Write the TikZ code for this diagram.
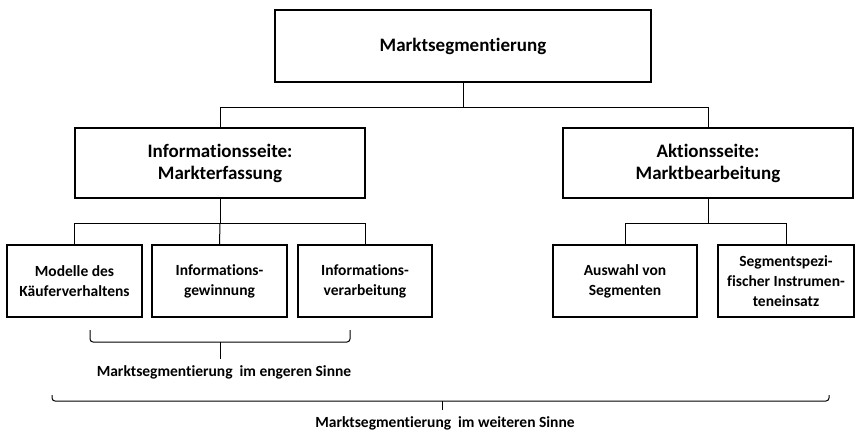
\documentclass[tikz,border=0pt]{standalone}
\usepackage{fontspec}
\setmainfont{Carlito}[RawFeature={-liga}]
\tikzset{
  kasten/.style={draw, line width=1.3pt, align=center, inner sep=0pt,
    font=\bfseries\fontsize{15.5}{20}\selectfont},
  gross/.style={font=\bfseries\fontsize{19}{22}\selectfont},
  linie/.style={line width=1pt},
  klammer/.style={line width=1pt, rounded corners=3pt},
  beschr/.style={font=\bfseries\fontsize{15.5}{20}\selectfont}
}
\begin{document}
\begin{tikzpicture}[x=1pt,y=-1pt]
\useasboundingbox (0,0) rectangle (856,436);
	\def\hb{72}
	\def\wb{290}

%Ebene 1
\node[kasten, gross, minimum width=376, minimum height=72] (ms) at (463,46) {Marktsegmentierung};

%Ebene 2
\node[kasten, gross, minimum width=\wb, minimum height=70] (info) at (220,163) {Informationsseite:\\Markterfassung};
\node[kasten, gross, minimum width=\wb, minimum height=70] (akt) at (708,163) {Aktionsseite:\\Marktbearbeitung};

%Ebene 3
\node[kasten, minimum width=135, minimum height=\hb] (mod) at (74.5,281) {Modelle des\\Käuferverhaltens};
\node[kasten, minimum width=135, minimum height=\hb] (gew) at (219.5,281) {Informations-\\gewinnung};
\node[kasten, minimum width=134, minimum height=\hb] (ver) at (365,281) {Informations-\\verarbeitung};
\node[kasten, minimum width=144, minimum height=\hb] (ausw) at (625,281) {Auswahl von\\Segmenten};
\node[kasten, minimum width=136, minimum height=\hb] (seg) at (786,281) {Segmentspezi-\\fischer Instrumen-\\teneinsatz};

%Verbindungen
\draw[linie] (ms.south) -- ++(0,25) coordinate (v0);
\draw[linie] (info.north) |- (v0) -| (akt.north);
\draw[linie] (info.south) -- ++(0,25) coordinate (v1);
\draw[linie] (mod.north) |- (v1) -| (ver.north);
\draw[linie] (v1) -- (gew.north);
\draw[linie] (akt.south) -- ++(0,25) coordinate (v2);
\draw[linie] (ausw.north) |- (v2) -| (seg.north);

%Klammern
\coordinate (k1) at (220,342);
\coordinate (k2) at (442,401);
\draw[klammer] (90,330) -- (90,342) -- (350,342) -- (350,330);
\draw[klammer] (52,395) -- (52,401) -- (829,401) -- (829,395);
\node[beschr] (eng) at (224,372) {Marktsegmentierung\ \ im engeren Sinne};
\node[beschr] (weit) at (445,423) {Marktsegmentierung\ \ im weiteren Sinne};
\draw[linie] (k1) -- ++(0,17);
\draw[linie] (k2) -- ++(0,9);

\end{tikzpicture}
\end{document}
